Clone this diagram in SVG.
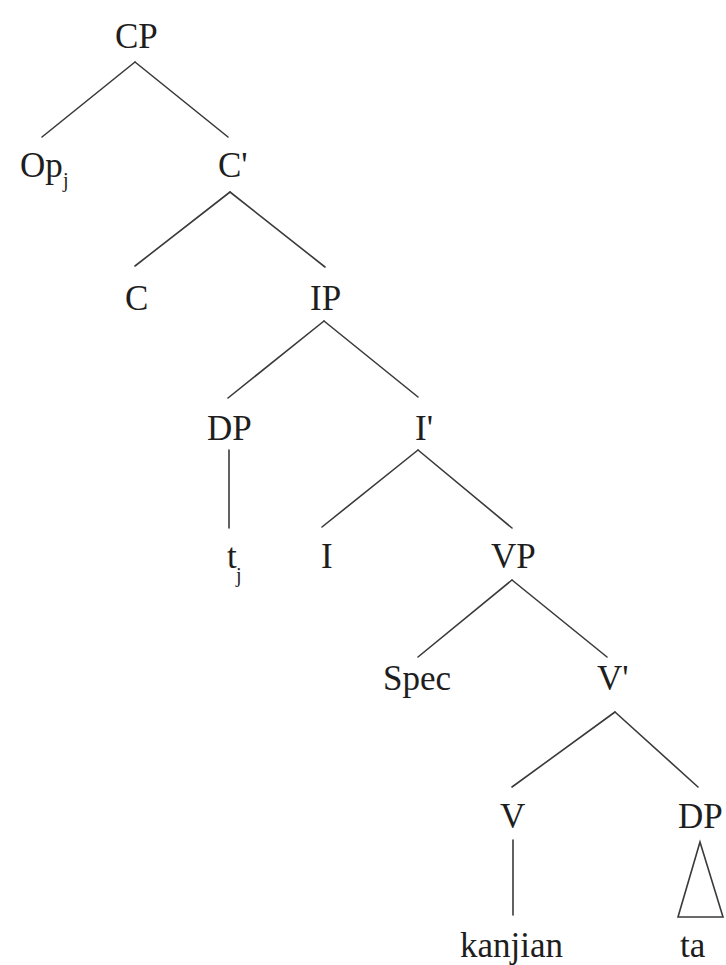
<svg xmlns="http://www.w3.org/2000/svg" width="726" height="965" viewBox="0 0 726 965">
<style>
text{font-family:"Liberation Serif","Times New Roman",serif;font-size:35px;fill:#1e1e1e}
.sub{font-size:20px}
#edges line,#edges polygon{stroke:#3a3a3a;stroke-width:1.6;fill:none;stroke-linecap:round}
</style>
<rect width="726" height="965" fill="#fff"/>
<g id="edges">
<line x1="135" y1="62" x2="42" y2="137"/>
<line x1="135" y1="62" x2="228" y2="137"/>
<line x1="230" y1="192" x2="135" y2="266"/>
<line x1="230" y1="192" x2="325" y2="267"/>
<line x1="324" y1="321" x2="228" y2="398"/>
<line x1="324" y1="321" x2="418" y2="397"/>
<line x1="229" y1="450" x2="229" y2="528"/>
<line x1="418" y1="450" x2="322" y2="527"/>
<line x1="418" y1="450" x2="512" y2="528"/>
<line x1="512" y1="580" x2="418" y2="657"/>
<line x1="512" y1="580" x2="607" y2="657"/>
<line x1="615" y1="712" x2="512" y2="787"/>
<line x1="615" y1="712" x2="698" y2="787"/>
<line x1="513" y1="840" x2="513" y2="915"/>
<polygon points="700,842 678,917 723,917"/>
</g>
<g id="n-CP"><text x="115" y="48">CP</text></g>
<g id="n-Op"><text x="20" y="177">Op</text><text class="sub" x="63" y="187">j</text></g>
<g id="n-Cbar"><text x="218" y="177">C'</text></g>
<g id="n-C"><text x="125" y="310">C</text></g>
<g id="n-IP"><text x="310" y="310">IP</text></g>
<g id="n-DP1"><text x="207" y="440">DP</text></g>
<g id="n-Ibar"><text x="415" y="440">I'</text></g>
<g id="n-t"><text x="227" y="568">t</text><text class="sub" x="236" y="582">j</text></g>
<g id="n-I"><text x="321" y="568">I</text></g>
<g id="n-VP"><text x="491" y="568">VP</text></g>
<g id="n-Spec"><text x="383" y="690">Spec</text></g>
<g id="n-Vbar"><text x="597" y="690">V'</text></g>
<g id="n-V"><text x="500" y="828">V</text></g>
<g id="n-DP2"><text x="678" y="828">DP</text></g>
<g id="n-kanjian"><text x="460" y="957">kanjian</text></g>
<g id="n-ta"><text x="680" y="957">ta</text></g>
</svg>
